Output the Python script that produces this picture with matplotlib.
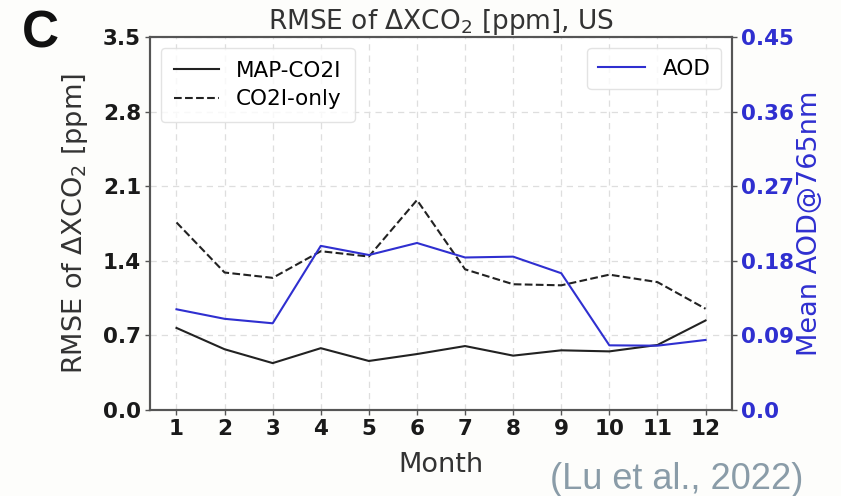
import matplotlib
matplotlib.use("Agg")
import matplotlib.pyplot as plt
import numpy as np

months = [1, 2, 3, 4, 5, 6, 7, 8, 9, 10, 11, 12]
map_co2i = [0.77, 0.57, 0.44, 0.58, 0.46, 0.525, 0.60, 0.51, 0.56, 0.55, 0.61, 0.84]
co2i_only = [1.76, 1.29, 1.24, 1.49, 1.44, 1.97, 1.32, 1.18, 1.17, 1.27, 1.20, 0.95]
aod = [0.1215, 0.110, 0.1046, 0.198, 0.187, 0.2015, 0.184, 0.185, 0.165, 0.078, 0.0776, 0.0845]
left_ticks = [0.0, 0.7, 1.4, 2.1, 2.8, 3.5]
right_ticks = [0.0, 0.09, 0.18, 0.27, 0.36, 0.45]
right_ticklabels = ["0.0", "0.09", "0.18", "0.27", "0.36", "0.45"]

blue = "#2f2fd0"
spine_c = "#555555"
tick_fs = 15.5
label_fs = 19.5

fig = plt.figure(figsize=(8.41, 4.96), dpi=100)
fig.patch.set_facecolor("#fdfdfb")
ax = fig.add_axes([0.1784, 0.1734, 0.6920, 0.7520])
ax.set_facecolor("white")

l1, = ax.plot(months, map_co2i, color="#222222", lw=1.5, label="MAP-CO2I")
l2, = ax.plot(months, co2i_only, color="#222222", lw=1.5, ls="--", label="CO2I-only")
ax.set_ylim(0, 3.5)
ax.set_yticks(left_ticks)
ax.set_yticklabels([f"{t:.1f}" for t in left_ticks])
ax.set_xticks(months)
ax.set_xlim(0.45, 12.55)
ax.grid(True, ls=(0, (5, 4)), color="#dedede", lw=0.9)
for lab in ax.get_xticklabels() + ax.get_yticklabels():
    lab.set_fontweight("bold")
    lab.set_fontsize(tick_fs)
    lab.set_color("#1a1a1a")
ax.tick_params(axis="both", length=3.5, width=1, color=spine_c, pad=3)
ax.set_xlabel("Month", fontsize=label_fs, color="#333333", labelpad=9)
ax.set_ylabel("RMSE of $\\Delta$XCO$_2$ [ppm]", fontsize=label_fs, color="#333333", labelpad=9)
ax.set_title("RMSE of $\\Delta$XCO$_2$ [ppm], US", fontsize=19, color="#333333", pad=5)
for s in ax.spines.values():
    s.set_color(spine_c)
    s.set_linewidth(1.5)

ax2 = ax.twinx()
l3, = ax2.plot(months, aod, color=blue, lw=1.5, label="AOD")
ax2.set_ylim(0, 0.45)
ax2.set_yticks(right_ticks)
ax2.set_yticklabels(right_ticklabels)
for lab in ax2.get_yticklabels():
    lab.set_fontweight("bold")
    lab.set_fontsize(tick_fs)
    lab.set_color(blue)
ax2.tick_params(axis="y", length=3.5, width=1, color=spine_c, pad=3)
ax2.set_ylabel("Mean AOD@765nm", fontsize=label_fs, color=blue, labelpad=2)
for s in ax2.spines.values():
    s.set_color(spine_c)
    s.set_linewidth(1.5)

leg1 = ax.legend(handles=[l1, l2], loc="upper left", fontsize=15.5,
                 frameon=True, edgecolor="#dddddd", handlelength=2.1,
                 borderaxespad=0.5, borderpad=0.6, labelspacing=0.4)
leg2 = ax2.legend(handles=[l3], loc="upper right", fontsize=15.5,
                  frameon=True, edgecolor="#dddddd", handlelength=2.2,
                  borderaxespad=0.5, borderpad=0.5)

fig.text(0.026, 0.931, "C", fontsize=37, fontweight="bold", color="#111111",
         ha="left", va="center", family="Liberation Sans")
fig.text(0.955, 0.034, "(Lu et al., 2022)", fontsize=26, color="#8a9ca8",
         ha="right", va="center", family="Liberation Sans")

fig.savefig("out.png", dpi=100, facecolor=fig.get_facecolor())
